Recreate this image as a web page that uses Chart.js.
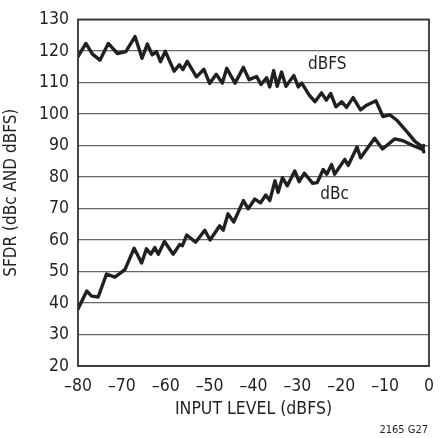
<!DOCTYPE html>
<html>
<head>
<meta charset="utf-8">
<script src="https://cdn.jsdelivr.net/npm/chart.js@4/dist/chart.umd.min.js"></script>
<style>
  html, body { margin: 0; padding: 0; background: #fff; }
  #wrap { width: 446px; height: 438px; position: relative; }
</style>
</head>
<body>
<div id="wrap"><canvas id="c" width="446" height="438"></canvas></div>
<script>
// ---- data ----
const dbfsX = [-80, -78.2, -76.7, -75, -73.1, -71, -69.1, -67, -65.4, -64.2, -63.1, -62.1, -61.2, -60.1,
  -58.1, -56.9, -56.1, -55.1, -53, -51.3, -50, -48.5, -47.1, -46.1, -44.2, -42.3, -41, -39.3, -38.3,
  -37, -36.3, -35.4, -34.6, -33.6, -32.6, -30.8, -29.8, -29, -27.3, -26, -24.5, -23.4, -22.4, -21.2,
  -19.9, -18.8, -17.3, -15.6, -14.2, -12.1, -10.5, -8.9, -7.4, -5.1, -3.2, -1.5, -1.2];
const dbfsY = [118.2, 122.4, 119, 117.1, 122.4, 119.2, 119.8, 124.6, 117.7, 122.2, 118.8, 119.8, 116.6, 119.9,
  113.6, 115.6, 114.1, 116.7, 111.8, 114.2, 109.7, 112.6, 109.8, 114.5, 109.8, 114.8, 110.9, 111.9, 109.4,
  111.5, 108.6, 113.8, 108.8, 113.3, 108.8, 112.2, 108.6, 109.8, 106, 103.9, 106.7, 104.4, 106.5, 102.3,
  103.9, 102.1, 105.2, 101.3, 102.8, 104.2, 99.2, 99.7, 98.1, 94.5, 91.3, 89.6, 88];

const dbcX = [-80, -78, -76.9, -75.4, -73.5, -71.6, -69.3, -67.2, -65.5, -64.4, -63.4, -62.5, -61.7, -60.3,
  -58.3, -56.8, -56.2, -55.2, -53.2, -51.1, -49.9, -47.7, -46.9, -45.8, -44.5, -42.3, -41.2, -39.7, -38.4,
  -37.2, -36.3, -35.1, -34.4, -33.4, -32.3, -30.6, -29.6, -28.4, -26.5, -25.5, -24.1, -23.3, -22.2, -21.5,
  -19.2, -18.4, -16.4, -15.6, -12.4, -10.6, -7.8, -5.9, -3.7, -1.6, -1.2];
const dbcY = [38.1, 43.8, 42.2, 41.9, 49.2, 48.2, 50.6, 57.4, 52.7, 57.2, 55.5, 57.6, 55.5, 59.5,
  55.5, 58.6, 58.2, 61.6, 59.3, 63.1, 60, 64.5, 63.1, 68.3, 65.7, 72.5, 69.9, 73, 71.8,
  74.3, 72.5, 78.8, 75.1, 79.8, 77.2, 81.9, 78.5, 81.2, 78, 78.2, 82.4, 80.9, 84, 80.9,
  85.6, 83.7, 89.5, 86.1, 92.3, 88.9, 92.1, 91.5, 90, 88.8, 90];

const seriesNames = ['dBFS', 'dBc'];
const xTickMin = -80, xTickMax = 0, xTickStep = 10;
const yTickMin = 20, yTickMax = 130, yTickStep = 10;
const xTitle = 'INPUT LEVEL (dBFS)';
const yTitle = 'SFDR (dBc AND dBFS)';
const figureId = '2165 G27';
// label anchor positions (data coords)
const labelX = [-23.2, -21.5];
const labelY = [115.6, 74.4];

const FONT = "'Liberation Sans Narrow', 'DejaVu Sans Condensed', 'Liberation Sans', sans-serif";
const INK = '#231f20';

function pts(xs, ys) { return xs.map((x, i) => ({ x, y: ys[i] })); }

const framePlugin = {
  id: 'frame',
  afterDraw(chart) {
    const { ctx, chartArea: a, scales } = chart;
    ctx.save();
    ctx.strokeStyle = '#333';
    ctx.lineWidth = 1.8;
    ctx.strokeRect(a.left, a.top, a.right - a.left, a.bottom - a.top);
    ctx.fillStyle = INK;
    ctx.font = '17px ' + FONT;
    ctx.textAlign = 'center';
    ctx.textBaseline = 'middle';
    seriesNames.forEach((n, i) => {
      ctx.fillText(n, scales.x.getPixelForValue(labelX[i]), scales.y.getPixelForValue(labelY[i]));
    });
    ctx.font = '11px ' + FONT;
    ctx.textAlign = 'right';
    ctx.textBaseline = 'alphabetic';
    ctx.fillText(figureId, a.right - 1, 433);
    ctx.restore();
  }
};

new Chart(document.getElementById('c'), {
  type: 'line',
  data: {
    datasets: [
      { label: seriesNames[0], data: pts(dbfsX, dbfsY) },
      { label: seriesNames[1], data: pts(dbcX, dbcY) }
    ]
  },
  options: {
    responsive: false,
    animation: false,
    devicePixelRatio: 1,
    layout: { padding: { top: 15, right: 17, left: 0, bottom: 0 } },
    elements: {
      line: { borderColor: INK, borderWidth: 3.4, tension: 0, borderJoinStyle: 'round', borderCapStyle: 'round' },
      point: { radius: 0 }
    },
    plugins: { legend: { display: false }, tooltip: { enabled: false } },
    scales: {
      x: {
        type: 'linear', min: xTickMin, max: xTickMax,
        ticks: { stepSize: xTickStep, color: INK, padding: 10, font: { family: FONT, size: 17.5 },
                 callback: v => String(v).replace('-', '\u2013') },
        grid: { display: false, drawTicks: false },
        border: { display: false },
        title: { display: true, text: xTitle, color: INK, font: { family: FONT, size: 17.5 }, padding: { top: 0, bottom: 18 } },
        afterFit: s => { s.height = 72; }
      },
      y: {
        type: 'linear', min: yTickMin, max: yTickMax,
        ticks: { stepSize: yTickStep, color: INK, padding: 9, font: { family: FONT, size: 17.5 } },
        grid: { color: '#666', lineWidth: 1.2, drawTicks: false },
        border: { display: false },
        title: { display: true, text: yTitle, color: INK, font: { family: FONT, size: 17 }, padding: { top: 1, bottom: 0 } },
        afterFit: s => { s.width = 78; }
      }
    }
  },
  plugins: [framePlugin]
});
</script>
</body>
</html>
